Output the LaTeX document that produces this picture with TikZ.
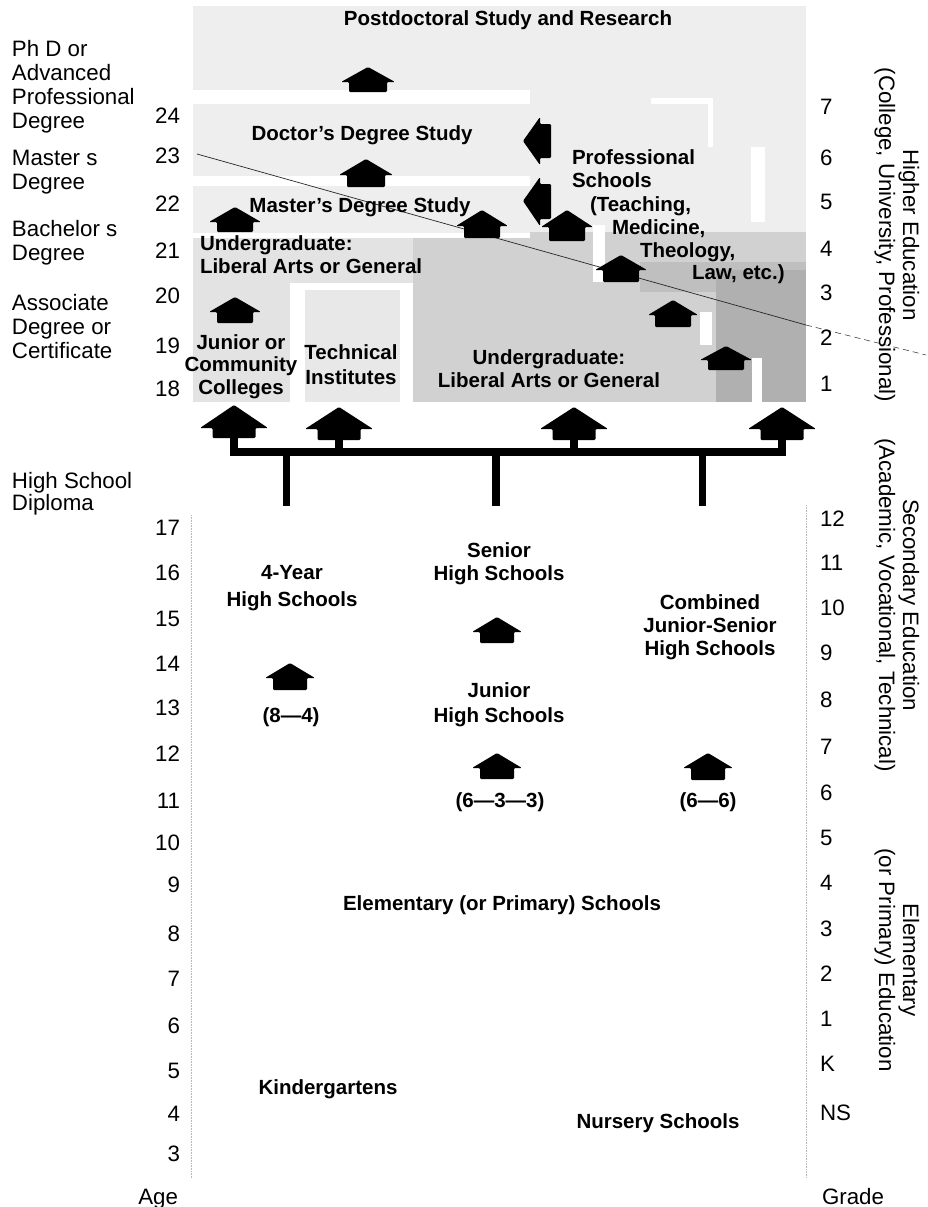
\documentclass[tikz,border=0pt]{standalone}
\usepackage{fontspec}
\setmainfont{Liberation Sans}
\newcommand\housearr[6]{\fill[arrowfill] (#1,#2) -- (#1+#5,#3) -- (#1+#6,#3) -- (#1+#6,#4) -- (#1-#6,#4) -- (#1-#6,#3) -- (#1-#5,#3) -- cycle;}
\newcommand\agenum[2]{\node[reg, anchor=base east] (age#1) at (180,#2+8) {#1};}
\newcommand\grnum[3]{\node[reg, anchor=base west] (gr#1) at (820,#3+8) {#2};}
\begin{document}
\begin{tikzpicture}[x=1pt,y=-1pt,
  every node/.style={inner sep=0pt, outer sep=0pt},
  reg/.style={font=\fontsize{22.3}{24}\selectfont},
  bl/.style={font=\fontsize{20.5}{23.5}\selectfont\bfseries, align=center},
  arrowfill/.style={fill=black, rounded corners=1.2pt},
  conn/.style={line width=7.5pt, line join=miter},
  lightsp/.style={fill=gray!13},
  midsp/.style={fill=gray!36},
  darksp/.style={fill=gray!50},
  darkersp/.style={fill=gray!62},
  gap/.style={fill=white},
  border/.style={gray!55, densely dotted, line width=0.6pt}
]
\useasboundingbox (0,0) rectangle (928,1207);

% ---------- speckled areas (higher education) ----------
\fill[lightsp] (193,6) rectangle (806,90);
\fill[lightsp] (193,104) rectangle (530,176);
\fill[lightsp] (193,186) rectangle (530,233);
\fill[lightsp] (530,88) rectangle (806,240);
\fill[fill=gray!22] (193,238) rectangle (413,402);
\fill[fill=gray!18] (305,290) rectangle (400,402);
\fill[midsp] (413,238) rectangle (806,402);
\fill[midsp] (530,232) rectangle (806,262);
\fill[darksp] (640,262) rectangle (806,292);
\fill[darkersp] (716,270) rectangle (806,402);
% white gaps
\fill[gap] (290,283) rectangle (413,290);
\fill[gap] (290,283) rectangle (305,402);
\fill[gap] (400,283) rectangle (413,402);
\fill[gap] (593,225) rectangle (605,282);
\fill[gap] (700,312) rectangle (712,345);
\fill[gap] (752,358) rectangle (762,402);
\fill[gap] (751,147) rectangle (765,222);
\fill[gap] (651,98) rectangle (711,104);
\fill[gap] (708,98) rectangle (713,147);

% thin diagonal line
\coordinate (dl1) at (197,154);
\coordinate (dl2) at (806,325);
\coordinate (dl3) at (926,355);
\draw[gray!30!black, line width=0.7pt] (dl1) -- (dl2);
\draw[gray!40!black, line width=0.5pt, dash pattern=on 6pt off 4pt] (dl2) -- (dl3);

% faint borders of the lower chart
\draw[border] (191,515) -- (191,1178);
\draw[border] (806,505) -- (806,1178);

% ---------- arrows ----------
\housearr{368}{67}{82}{92}{27}{19}
\housearr{366}{159}{175}{187}{27}{19}
\housearr{235}{207}{222}{232}{26}{18}
\housearr{482}{210}{226}{238}{26}{18}
\housearr{567}{210}{227}{241}{26}{18}
\housearr{621}{255}{270}{282}{26}{18}
\housearr{673}{300}{315}{327}{25}{18}
\housearr{726}{346}{360}{370}{26}{18}
\housearr{235}{297}{312}{323}{26}{18}
\housearr{290}{663}{678}{690}{25}{17}
\housearr{497}{617}{632}{643}{25}{17}
\housearr{497}{753}{768}{779}{25}{17}
\housearr{708}{753}{768}{780}{25}{17}
% left-pointing arrows
\fill[arrowfill] (523,141) -- (540,117) -- (540,124) -- (551,124) -- (551,158) -- (540,158) -- (540,165) -- cycle;
\fill[arrowfill] (523,201) -- (540,177) -- (540,184) -- (551,184) -- (551,219) -- (540,219) -- (540,226) -- cycle;
% big arrows
\housearr{234}{405}{428}{438}{34}{21.5}
\housearr{339}{407}{429}{440}{34}{21.5}
\housearr{574}{407}{429}{440}{34}{21.5}
\housearr{782}{407}{429}{440}{34}{21.5}

% connector bar
\coordinate (s1) at (234,437);
\coordinate (s2) at (339,439);
\coordinate (s3) at (574,439);
\coordinate (s4) at (782,439);
\coordinate (b1) at (234,452);
\coordinate (b2) at (339,452);
\coordinate (b3) at (574,452);
\coordinate (b4) at (782,452);
\coordinate (d1t) at (286.5,452);
\coordinate (d2t) at (496,452);
\coordinate (d3t) at (702.5,452);
\coordinate (d1b) at (286.5,506);
\coordinate (d2b) at (496,506);
\coordinate (d3b) at (702.5,506);
\draw[conn] (s1) -- (b1) -- (b4) -- (s4);
\draw[conn] (s2) -- (b2);
\draw[conn] (s3) -- (b3);
\draw[conn] (d1t) -- (d1b);
\draw[conn] (d2t) -- (d2b);
\draw[conn] (d3t) -- (d3b);

% ---------- bold labels ----------
\node[bl, anchor=north] (postdoc) at (508,10.6) {Postdoctoral Study and Research};
\node[bl, anchor=north] (doctor) at (362,125.6) {Doctor's Degree Study};
\node[bl, anchor=north] (master) at (360,197.6) {Master's Degree Study};
\node[bl, anchor=north west, align=left] (ugl) at (200,235.6) {Undergraduate:\\Liberal Arts or General};
\node[bl, anchor=north, font=\fontsize{20.5}{22.5}\selectfont\bfseries] (junior) at (241,334.6) {Junior or\\Community\\Colleges};
\node[bl, anchor=north, font=\fontsize{20.5}{25}\selectfont\bfseries] (tech) at (351,344.6) {Technical\\Institutes};
\node[bl, anchor=north] (ugr) at (549,349.6) {Undergraduate:\\Liberal Arts or General};
\node[bl, anchor=base west] (prof1) at (572,164) {Professional};
\node[bl, anchor=base west] (prof2) at (572,187) {Schools};
\node[bl, anchor=base west] (prof3) at (590,211) {(Teaching,};
\node[bl, anchor=base west] (prof4) at (612,234) {Medicine,};
\node[bl, anchor=base west] (prof5) at (640,257) {Theology,};
\node[bl, anchor=base west] (prof6) at (692,279) {Law, etc.)};

\node[bl, anchor=north, font=\fontsize{20.5}{27}\selectfont\bfseries] (hs4) at (292,565.6) {4-Year\\High Schools};
\node[bl, anchor=north, font=\fontsize{20.5}{23}\selectfont\bfseries] (senior) at (499,542.6) {Senior\\High Schools};
\node[bl, anchor=north, font=\fontsize{20.5}{23}\selectfont\bfseries] (combined) at (710,594.6) {Combined\\Junior-Senior\\High Schools};
\node[bl, anchor=north, font=\fontsize{20.5}{25}\selectfont\bfseries] (juniorhs) at (499,682.6) {Junior\\High Schools};
\node[bl, anchor=base] (p84) at (291,722) {(8—4)};
\node[bl, anchor=base] (p633) at (500,807) {(6—3—3)};
\node[bl, anchor=base] (p66) at (708,807) {(6—6)};
\node[bl, anchor=base] (elem) at (502,910) {Elementary (or Primary) Schools};
\node[bl, anchor=base] (kinder) at (328,1094) {Kindergartens};
\node[bl, anchor=base] (nursery) at (658,1128) {Nursery Schools};

% ---------- left degree labels ----------
\node[reg, anchor=north west, align=left] (phd) at (12,40) {Ph D or\\Advanced\\Professional\\Degree};
\node[reg, anchor=north west, align=left] (mast) at (12,150) {Master s\\Degree};
\node[reg, anchor=north west, align=left] (bach) at (12,220) {Bachelor s\\Degree};
\node[reg, anchor=north west, align=left] (assoc) at (12,294) {Associate\\Degree or\\Certificate};
\node[reg, anchor=north west, align=left, font=\fontsize{22.3}{22.5}\selectfont] (hsd) at (12,472) {High School\\Diploma};

% ---------- age numbers ----------
\agenum{24}{115}
\agenum{23}{155}
\agenum{22}{203}
\agenum{21}{250}
\agenum{20}{295}
\agenum{19}{345}
\agenum{18}{388}
\agenum{17}{527}
\agenum{16}{572}
\agenum{15}{618}
\agenum{14}{663}
\agenum{13}{707}
\agenum{12}{753}
\agenum{11}{800}
\agenum{10}{842}
\agenum{9}{884}
\agenum{8}{933}
\agenum{7}{978}
\agenum{6}{1025}
\agenum{5}{1070}
\agenum{4}{1113}
\agenum{3}{1153}
\node[reg, anchor=base east] (agelbl) at (178,1204) {Age};

% ---------- grade numbers ----------
\grnum{h7}{7}{106}
\grnum{h6}{6}{157}
\grnum{h5}{5}{201}
\grnum{h4}{4}{248}
\grnum{h3}{3}{292}
\grnum{h2}{2}{337}
\grnum{h1}{1}{383}
\grnum{s12}{12}{518}
\grnum{s11}{11}{562}
\grnum{s10}{10}{607}
\grnum{s9}{9}{652}
\grnum{s8}{8}{699}
\grnum{s7}{7}{746}
\grnum{s6}{6}{792}
\grnum{e5}{5}{837}
\grnum{e4}{4}{882}
\grnum{e3}{3}{928}
\grnum{e2}{2}{973}
\grnum{e1}{1}{1018}
\grnum{k}{K}{1063}
\grnum{ns}{NS}{1112}
\node[reg, anchor=base west] (gradelbl) at (822,1204) {Grade};

% ---------- rotated level labels ----------
\node[reg, rotate=-90, align=center] (higher) at (897,235) {Higher Education\\(College, University, Professional)};
\node[reg, rotate=-90, align=center] (secondary) at (897,605) {Secondary Education\\(Academic, Vocational, Technical)};
\node[reg, rotate=-90, align=center] (elementary) at (897,960) {Elementary\\(or Primary) Education};
\end{tikzpicture}
\end{document}
